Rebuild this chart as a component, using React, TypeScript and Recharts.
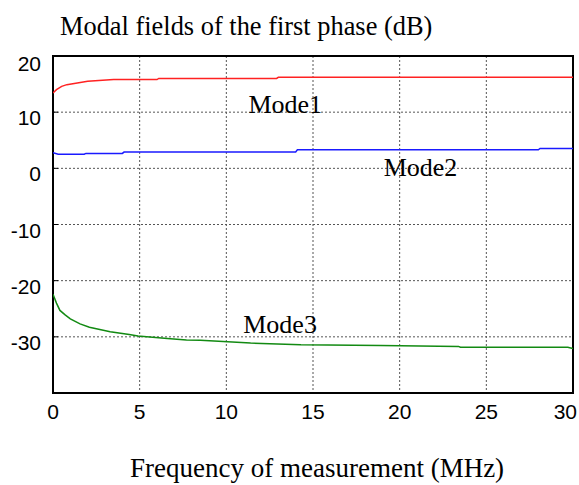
import {
  CartesianGrid,
  Line,
  LineChart,
  ReferenceArea,
  ReferenceDot,
  XAxis,
  YAxis,
} from "recharts";

const X_TICKS = [0, 5, 10, 15, 20, 25, 30];
const Y_TICKS = [20, 10, 0, -10, -20, -30];

// Mode1 (red)
const mode1Freq = [0, 0.2, 0.5, 0.8, 1.4, 2.0, 3.5, 6.0, 6.1, 12.9, 13.0, 30];
const mode1Db = [13.4, 14.0, 14.6, 14.9, 15.2, 15.5, 15.8, 15.8, 16.0, 16.0, 16.2, 16.2];

// Mode2 (blue)
const mode2Freq = [0, 0.3, 1.8, 1.9, 4.0, 4.1, 14.0, 14.1, 28.0, 28.1, 30];
const mode2Db = [2.8, 2.5, 2.5, 2.65, 2.65, 2.9, 2.9, 3.3, 3.3, 3.55, 3.55];

// Mode3 (green)
const mode3Freq = [0, 0.2, 0.4, 0.7, 1.0, 1.56, 2.1, 3.3, 4.4, 4.9, 6.6, 7.7, 8.5, 11.4, 14.3, 18.9, 23.4, 23.5, 29.7, 30];
const mode3Db = [-22.4, -24.0, -25.3, -26.1, -26.8, -27.7, -28.3, -29.1, -29.6, -29.85, -30.3, -30.55, -30.6, -31.1, -31.4, -31.55, -31.7, -31.85, -31.85, -32.1];

const MODE_LABELS = ["Mode1", "Mode2", "Mode3"];
const LABEL_FREQ = [13.4, 21.2, 13.1];
const LABEL_DB = [9.85, -1.37, -29.3];

const toPoints = (xs: number[], ys: number[]) => xs.map((x, i) => ({ x, y: ys[i] }));

const SERIES = [
  { name: "Mode1", color: "#ff2222", data: toPoints(mode1Freq, mode1Db) },
  { name: "Mode2", color: "#1a1aff", data: toPoints(mode2Freq, mode2Db) },
  { name: "Mode3", color: "#128a12", data: toPoints(mode3Freq, mode3Db) },
];

const SANS = '"Liberation Sans", Arial, Helvetica, sans-serif';
const SERIF = '"Liberation Serif", "Times New Roman", serif';

function YTick({ y, payload }: any) {
  const dy = payload.value === 20 ? 15 : 13;
  return (
    <text x={41} y={y + dy} textAnchor="end" fontSize={21} fontFamily={SANS} fill="#000">
      {payload.value}
    </text>
  );
}

function XTick({ x, payload }: any) {
  const last = payload.value === 30;
  return (
    <text
      x={last ? 577 : x}
      y={419}
      textAnchor={last ? "end" : "middle"}
      fontSize={21}
      fontFamily={SANS}
      fill="#000"
    >
      {payload.value}
    </text>
  );
}

function modeLabel(text: string) {
  return ({ cx, cy }: any) => (
    <text x={cx} y={cy} textAnchor="middle" fontSize={26} fontFamily={SERIF} fill="#000">
      {text}
    </text>
  );
}

export default function App() {
  return (
    <div style={{ position: "absolute", left: 0, top: 0, width: 579, height: 485, background: "#fff" }}>
      <div
        style={{
          position: "absolute",
          left: 60,
          top: 13,
          fontFamily: SERIF,
          fontSize: 26.4,
          lineHeight: "26px",
          whiteSpace: "nowrap",
        }}
      >
        Modal fields of the first phase (dB)
      </div>
      <LineChart width={579} height={485} margin={{ top: 56, right: 0, left: 0, bottom: 0 }}>
        <CartesianGrid stroke="#555" strokeDasharray="2 2" strokeWidth={1} />
        <XAxis
          dataKey="x"
          type="number"
          domain={[0, 30]}
          ticks={X_TICKS}
          allowDataOverflow
          height={92}
          axisLine={false}
          tickLine={false}
          tick={<XTick />}
        />
        <YAxis
          type="number"
          domain={[-40, 20]}
          ticks={Y_TICKS}
          allowDataOverflow
          width={53}
          axisLine={false}
          tickSize={-5}
          tickLine={{ stroke: "#000", strokeWidth: 1 }}
          tick={<YTick />}
        />
        <YAxis
          yAxisId="right"
          orientation="right"
          type="number"
          domain={[-40, 20]}
          ticks={Y_TICKS}
          allowDataOverflow
          width={6}
          axisLine={false}
          tickSize={-5}
          tickLine={{ stroke: "#000", strokeWidth: 1 }}
          tick={false}
        />
        {SERIES.map((s) => (
          <Line
            key={s.name}
            data={s.data}
            dataKey="y"
            name={s.name}
            type="linear"
            stroke={s.color}
            strokeWidth={1.5}
            dot={false}
            isAnimationActive={false}
          />
        ))}
        <ReferenceArea x1={0} x2={30} y1={-40} y2={20} fill="none" stroke="#000" strokeWidth={2} />
        {MODE_LABELS.map((label, i) => (
          <ReferenceDot
            key={label}
            x={LABEL_FREQ[i]}
            y={LABEL_DB[i]}
            r={0}
            shape={modeLabel(label)}
          />
        ))}
      </LineChart>
      <div
        style={{
          position: "absolute",
          left: 130,
          top: 455,
          fontFamily: SERIF,
          fontSize: 27,
          lineHeight: "26px",
          whiteSpace: "nowrap",
        }}
      >
        Frequency of measurement (MHz)
      </div>
    </div>
  );
}
